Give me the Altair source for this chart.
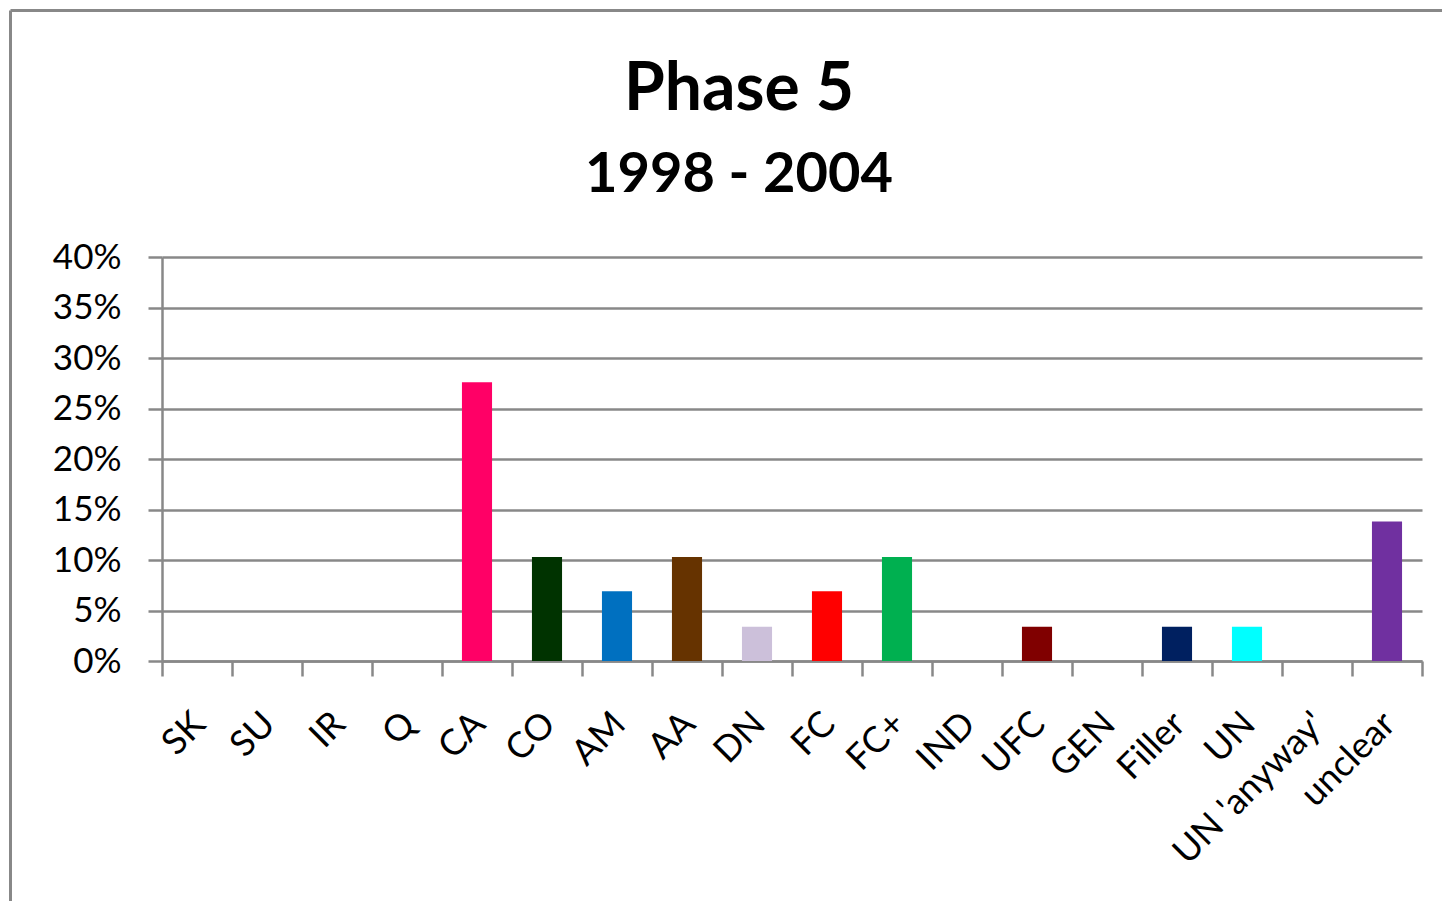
import altair as alt
import pandas as pd

categories = ["SK", "SU", "IR", "Q", "CA", "CO", "AM", "AA", "DN", "FC", "FC+",
              "IND", "UFC", "GEN", "Filler", "UN", "UN 'anyway'", "unclear"]
values = [0, 0, 0, 0, 0.276, 0.103, 0.069, 0.103, 0.034, 0.069, 0.103,
          0, 0.034, 0, 0.034, 0.034, 0, 0.138]
colors = ["#FFFFFF", "#FFFFFF", "#FFFFFF", "#FFFFFF", "#FF0066", "#003300", "#0070C0",
          "#663300", "#CCC0DA", "#FF0000", "#00B050", "#FFFFFF", "#800000", "#FFFFFF",
          "#002060", "#00FFFF", "#FFFFFF", "#7030A0"]
y_ticks = [0, 0.05, 0.1, 0.15, 0.2, 0.25, 0.3, 0.35, 0.4]
title_text = "Phase 5"
subtitle_text = "1998 - 2004"

df = pd.DataFrame({"cat": categories, "val": values, "col": colors})

FONT = "Lato"
GRAY = "#888888"

bars = alt.Chart(df).mark_bar(width=alt.RelativeBandSize(0.43)).encode(
    x=alt.X("cat:N", sort=categories, title=None,
            scale=alt.Scale(paddingInner=0, paddingOuter=0),
            axis=alt.Axis(labelAngle=-45, labelAlign="right", labelBaseline="top",
                          labelFont=FONT, labelFontSize=36, labelColor="black",
                          labelPadding=30, labelOffset=-10, labelLimit=0,
                          tickBand="extent", tickSize=15,
                          tickColor=GRAY, tickWidth=2.5, domainColor=GRAY,
                          domainWidth=2.5, grid=False, labelOverlap=False)),
    y=alt.Y("val:Q", title=None,
            scale=alt.Scale(domain=[0, 0.4], nice=False),
            axis=alt.Axis(values=y_ticks, format=".0%", labelFont=FONT,
                          labelFontSize=35, labelColor="black", labelPadding=27,
                          tickSize=14, tickColor=GRAY, tickWidth=2.5,
                          domainColor=GRAY, domainWidth=2.5, gridColor=GRAY,
                          gridWidth=2.5, gridOpacity=1)),
    color=alt.Color("col:N", scale=None, legend=None),
)

one = pd.DataFrame({"a": [0]})
border_top = alt.Chart(one).mark_rule(color=GRAY, strokeWidth=3).encode(
    x=alt.value(-151.5), x2=alt.value(1400), y=alt.value(-246.5))
border_left = alt.Chart(one).mark_rule(color=GRAY, strokeWidth=3).encode(
    x=alt.value(-151.5), y=alt.value(-246.5), y2=alt.value(700))

title = alt.Chart(one).mark_text(font=FONT, fontSize=66, fontWeight="bold",
                                 color="black", align="center",
                                 baseline="alphabetic").encode(
    x=alt.value(577), y=alt.value(-147), text=alt.value(title_text))
subtitle = alt.Chart(one).mark_text(font=FONT, fontSize=56, fontWeight="bold",
                                    color="black", align="center",
                                    baseline="alphabetic").encode(
    x=alt.value(577), y=alt.value(-65), text=alt.value(subtitle_text))

chart = alt.layer(border_top, border_left, title, subtitle, bars).properties(
    width=1260, height=404,
    autosize=alt.AutoSizeParams(type="none"),
    padding={"left": 154, "top": 249, "right": 20, "bottom": 240},
    background="white",
).configure_view(stroke=None)

chart.save("out.html", embed_options={"renderer": "svg", "actions": False})
